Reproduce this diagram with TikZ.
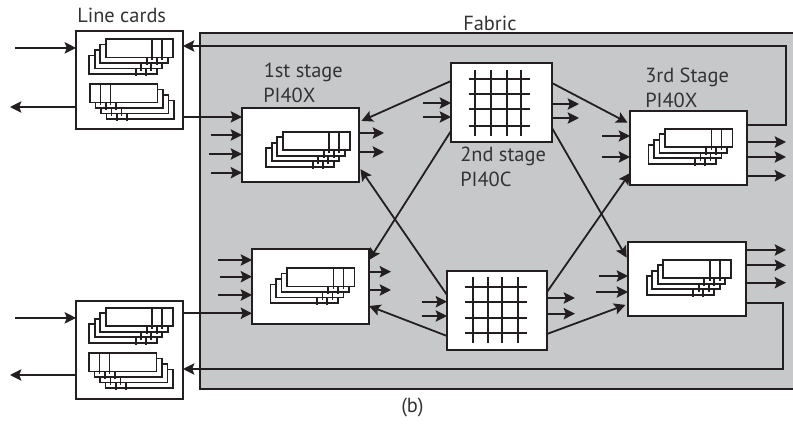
\documentclass[tikz,border=0pt]{standalone}
\usepackage{fontspec}
\setmainfont{PT Sans}
\usetikzlibrary{arrows.meta}
\definecolor{ink}{HTML}{231F20}
\definecolor{fabricgray}{HTML}{C7C8CA}
\definecolor{labelink}{HTML}{333333}
\tikzset{
  box/.style={draw=ink,fill=white,line width=1.4pt,inner sep=0pt,outer sep=0pt},
  wire/.style={draw=ink,line width=1.35pt},
  arr/.style={wire,-{Stealth[length=8.5pt,width=8.5pt,inset=1.6pt]}},
  gaparr/.style={arr,shorten >=2pt},
  card/.style={draw=ink,fill=white,line width=1.35pt},
  tick/.style={draw=ink,line width=1.3pt},
  gridline/.style={draw=ink,line width=1.35pt},
  lbl/.style={anchor=base west,inner sep=0pt,text=labelink,font=\fontsize{15.3}{18}\selectfont},
}
% box: name, x0, y0, x1, y1
\newcommand{\mybox}[5]{\node[box,minimum width={(#4-#2)*0.75pt},minimum height={(#5-#3)*0.75pt}] (#1) at ({(#2+#4)/2},{(#3+#5)/2}) {};}
% stack whose lines are on the right (front card top-left at x,y)
\newcommand{\stackR}[2]{\foreach \i in {3,2,1,0}{
  \draw[card] ({#1-5.5*\i},{#2+5.5*\i}) rectangle ++(67.5,18.5);
  \draw[tick] ({#1-5.5*\i+46.5},{#2+5.5*\i}) -- ++(0,21);
  \draw[tick] ({#1-5.5*\i+56.5},{#2+5.5*\i}) -- ++(0,21);
}}
% mirrored stack, lines on the left
\newcommand{\stackL}[2]{\foreach \i in {3,2,1,0}{
  \draw[card] ({#1+5.5*\i},{#2+5.5*\i}) rectangle ++(67.5,18.5);
  \draw[tick] ({#1+5.5*\i+10.5},{#2+5.5*\i}) -- ++(0,21);
  \draw[tick] ({#1+5.5*\i+20.5},{#2+5.5*\i}) -- ++(0,21);
}}
% crossbar: x0 x1 ys  / y0 y1 xs
\newcommand{\crossbar}[6]{%
  \foreach \yy in {#3}{\draw[gridline] (#1,\yy) -- (#2,\yy);}
  \foreach \xx in {#6}{\draw[gridline] (\xx,#4) -- (\xx,#5);}
}
% arrows: into the west side of a box, out of the east side
\newcommand{\inarrow}[3]{\coordinate (tmpin) at (#2,#3); \draw[arr] (tmpin) -- (#1.west |- tmpin);}
\newcommand{\outarrow}[3]{\coordinate (tmpout) at (#2,#3); \draw[arr] (#1.east |- tmpout) -- (tmpout);}
\begin{document}
\begin{tikzpicture}[x=0.75pt,y=-0.75pt]
\useasboundingbox (0,0) rectangle (793,427);
% fabric
\fill[fabricgray] (200,33) rectangle (793,389);
\draw[ink,line width=1.35pt] (793,33) -- (200,33) -- (200,389) -- (793,389);
% boxes
\mybox{lct}{76}{31}{183}{129}
\mybox{lcb}{76}{301}{183}{399}
\mybox{s1t}{242}{108}{359}{182}
\mybox{s1b}{252}{249}{369}{324}
\mybox{s2t}{451}{63}{552}{142}
\mybox{s2b}{447}{271}{547}{350}
\mybox{s3t}{630}{111}{747}{185}
\mybox{s3b}{628}{242}{746}{316}
% card stacks
\stackR{105.7}{39}
\stackL{90}{84}
\stackR{105.7}{307.7}
\stackL{89}{353}
\stackR{282.7}{131.7}
\stackR{287}{268}
\stackR{665}{128.7}
\stackR{663.3}{259.7}
% crossbars
\crossbar{469}{530}{78.7,94,109,126}{70}{136}{475,491,507,521}
\crossbar{465}{527}{286.7,302,317.7,333}{277}{343}{473,488,502,518}
% line card external arrows
\inarrow{lct}{15}{47.9}
\coordinate (lctout) at (10,107);
\draw[arr] (lct.west |- lctout) -- (lctout);
\inarrow{lcb}{15}{317.9}
\coordinate (lcbout) at (10,375);
\draw[arr] (lcb.west |- lcbout) -- (lcbout);
% line cards to first stage
\draw[arr] (lct.east |- 0,116.9) -- (s1t.west |- 0,116.9);
\draw[arr] (lcb.east |- 0,313.3) -- (s1b.west |- 0,313.3);
% feedback
\coordinate (fbt) at (786,125);
\draw[arr] (s3t.east |- fbt) -- (fbt) -- (786,46) -- (lct.east |- 0,46);
\coordinate (fbb) at (783,303);
\draw[arr] (s3b.east |- fbb) -- (fbb) -- (783,369) -- (lcb.east |- 0,369);
% stage inputs
\inarrow{s1t}{211}{135}
\inarrow{s1t}{209}{154}
\inarrow{s1t}{211}{172.7}
\inarrow{s1b}{218}{260}
\inarrow{s1b}{220}{276.7}
\inarrow{s1b}{218}{295}
\inarrow{s2t}{423}{103}
\inarrow{s2t}{423}{117}
\inarrow{s2b}{421.7}{301.7}
\inarrow{s2b}{421.7}{316}
\inarrow{s3t}{602}{136}
\inarrow{s3t}{602}{157}
\inarrow{s3b}{599}{276}
\inarrow{s3b}{596}{292}
% stage outputs
\outarrow{s1t}{384}{133}
\outarrow{s1t}{384}{152}
\outarrow{s1b}{391}{271.7}
\outarrow{s1b}{391}{290}
\outarrow{s2t}{579}{104}
\outarrow{s2t}{579}{118}
\outarrow{s2b}{575}{298}
\outarrow{s2b}{575}{313.7}
\outarrow{s3t}{786}{142}
\outarrow{s3t}{786}{157}
\outarrow{s3t}{786}{175.7}
\outarrow{s3b}{786}{250}
\outarrow{s3b}{786}{265.3}
\outarrow{s3b}{786}{282.7}
% stage-to-stage connectors
\draw[gaparr] (s2t.west |- 0,81) -- (s1t.east |- 0,122);
\draw[gaparr] (s2t.east |- 0,83) -- (s3t.west |- 0,124);
\draw[gaparr] (s2t.east |- 0,128) -- (s3b.west |- 0,260);
\draw[arr] (s2b.east |- 0,292) -- (s3t.west |- 0,173);
\draw[arr] (s2t.west |- 0,131) -- (s1b.east |- 0,260);
\draw[gaparr] (s2b.west |- 0,295) -- (s1t.east |- 0,167);
\draw[arr] (s2b.west |- 0,336) -- (s1b.east |- 0,306);
\draw[gaparr] (s2b.east |- 0,334) -- (s3b.west |- 0,304);
% labels
\node[lbl] (tlc) at (77,23) {Line cards};
\node[lbl] (tfab) at (463,30.7) {Fabric};
\node[lbl] (t1a) at (263.5,78) {1st stage};
\node[lbl] (t1b) at (263,102.7) {PI40X};
\node[lbl] (t2a) at (460,161.7) {2nd stage};
\node[lbl] (t2b) at (460,187) {PI40C};
\node[lbl] (t3a) at (645,82.7) {3rd Stage};
\node[lbl] (t3b) at (645,107.7) {PI40X};
\node[lbl] (tb) at (401,413) {(b)};
\end{tikzpicture}
\end{document}
